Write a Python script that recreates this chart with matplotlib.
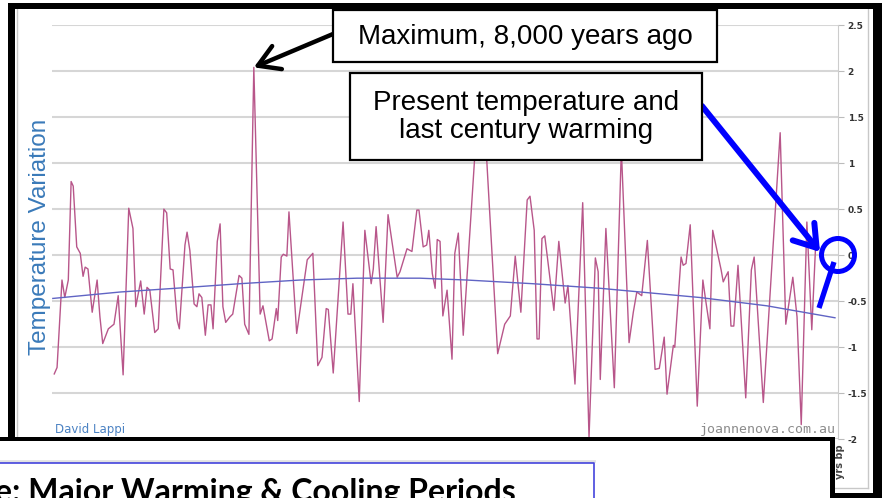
import matplotlib.pyplot as plt
from matplotlib.patches import Rectangle, Ellipse
from matplotlib.lines import Line2D

W, H = 885, 498

# GISP2-style temperature variation, years before present
years_bp = [10840, 10800, 10730, 10690, 10640, 10600, 10570, 10520, 10470, 10430,
            10400, 10360, 10300, 10230, 10190, 10150, 10070, 9990, 9930, 9860,
            9780, 9720, 9680, 9610, 9560, 9520, 9480, 9410, 9360, 9280,
            9240, 9190, 9150, 9090, 9060, 8980, 8950, 8910, 8850, 8810,
            8780, 8740, 8690, 8650, 8610, 8580, 8520, 8480, 8440, 8400,
            8340, 8300, 8210, 8170, 8130, 8070, 8000, 7910, 7870, 7780,
            7740, 7680, 7660, 7610, 7580, 7530, 7500, 7390, 7240, 7160,
            7090, 7030, 6970, 6940, 6870, 6730, 6660, 6620, 6590, 6500,
            6420, 6330, 6300, 6260, 6160, 6090, 5960, 5920, 5820, 5750,
            5680, 5650, 5590, 5540, 5510, 5460, 5420, 5390, 5350, 5310,
            5250, 5180, 5140, 5090, 5020, 4820, 4720, 4530, 4430, 4350,
            4280, 4200, 4110, 4070, 4010, 3970, 3940, 3900, 3860, 3730,
            3660, 3570, 3530, 3430, 3320, 3230, 3140, 3100, 3070, 2990,
            2920, 2870, 2770, 2660, 2600, 2550, 2480, 2400, 2290, 2230,
            2160, 2120, 2030, 2010, 1920, 1890, 1850, 1790, 1690, 1610,
            1570, 1510, 1470, 1350, 1320, 1290, 1250, 1210, 1170, 1110,
            1000, 920, 880, 750, 510, 430, 330, 270, 210, 130,
            60, 0]
temp_var = [-1.29, -1.22, -0.27, -0.46, -0.27, 0.80, 0.75, 0.09, 0.02, -0.23,
            -0.13, -0.15, -0.62, -0.27, -0.67, -0.96, -0.80, -0.75, -0.44, -1.30,
            0.51, 0.29, -0.56, -0.28, -0.64, -0.35, -0.38, -0.84, -0.80, 0.50,
            0.46, -0.15, -0.16, -0.71, -0.80, 0.11, 0.25, 0.05, -0.53, -0.56,
            -0.42, -0.46, -0.87, -0.54, -0.54, -0.80, 0.15, 0.34, -0.56, -0.73,
            -0.67, -0.64, -0.22, -0.25, -0.75, -0.86, 2.04, -0.64, -0.55, -0.93,
            -0.91, -0.58, -0.71, -0.02, 0.01, -0.01, 0.47, -0.85, -0.05, 0.02,
            -1.20, -1.11, -0.58, -0.59, -1.28, 0.36, -0.64, -0.64, -0.31, -1.59,
            0.27, -0.31, -0.15, 0.31, -0.73, 0.44, -0.24, -0.18, 0.07, 0.04,
            0.49, 0.49, 0.09, 0.11, 0.27, -0.20, -0.36, 0.17, 0.15, -0.66,
            -0.38, -1.13, 0.02, 0.24, -0.87, 1.50, 1.50, -1.07, -0.75, -0.66,
            -0.01, -0.62, 0.60, 0.64, 0.27, -0.91, -0.91, 0.18, 0.21, -0.60,
            0.15, -0.52, -0.33, -1.40, 0.57, -1.98, -0.03, -0.18, -1.35, 0.29,
            -0.71, -1.44, 1.15, -0.95, -0.62, -0.40, -0.44, 0.16, -1.24, -1.23,
            -0.89, -1.51, -0.98, -1.00, -0.02, -0.11, -0.09, 0.33, -1.64, -0.27,
            -0.49, -0.80, 0.27, -0.16, -0.29, -0.24, -0.18, -0.77, -0.77, -0.11,
            -1.55, -0.16, -0.02, -1.60, 1.33, -0.75, -0.24, -0.67, -1.84, 0.36,
            -0.81, 0.20]

# polynomial trend line as drawn on the chart
trend_years = [10860, 9900, 9120, 8200, 7340, 6530, 5640, 4970, 4030, 3070,
               2360, 1650, 700, -270]
trend_vals = [-0.47, -0.40, -0.36, -0.31, -0.27, -0.25, -0.25, -0.27, -0.31, -0.36,
              -0.41, -0.46, -0.55, -0.68]

y_ticks = [2.5, 2, 1.5, 1, 0.5, 0, -0.5, -1, -1.5, -2]
y_tick_labels = ['2.5', '2', '1.5', '1', '0.5', '0', '-0.5', '-1', '-1.5', '-2']


def fx(x):
    return x / W


def fy(y):
    return 1 - y / H


def frame(x0, y0, x1, y1, **kw):
    r = Rectangle((fx(x0), fy(y1)), (x1 - x0) / W, (y1 - y0) / H,
                  transform=fig.transFigure, **kw)
    fig.add_artist(r)


fig = plt.figure(figsize=(W / 100, H / 100), dpi=100)
fig.patch.set_facecolor('white')

ax = fig.add_axes([fx(52), fy(439.3), (838 - 52) / W, (439.3 - 25) / H])
ax.plot(years_bp, temp_var, color='#b8568a', lw=1.0, zorder=3)
ax.plot(trend_years, trend_vals, color='#6064c4', lw=1.0, zorder=4)
ax.set_xlim(10872, -313)
ax.set_ylim(-2, 2.5)
ax.set_xticks([])
ax.set_yticks(y_ticks)
ax.set_yticklabels(y_tick_labels, fontsize=6.5, fontweight='bold', color='#333333')
ax.yaxis.tick_right()
ax.tick_params(axis='y', length=4, color='#bbbbbb', pad=3)
ax.grid(axis='y', color='#d6d6d6', lw=1.5)
ax.set_axisbelow(True)
for s in ['top', 'left', 'bottom']:
    ax.spines[s].set_visible(False)
ax.spines['right'].set_color('#cccccc')

ax.text(0.004, 0.024, 'David Lappi', transform=ax.transAxes, fontsize=8.5,
        color='#4b82c3', va='center')
ax.text(0.9975, 0.024, 'joannenova.com.au', transform=ax.transAxes,
        family='DejaVu Sans Mono', fontsize=9.5, color='#8c8c8c',
        ha='right', va='center')

fig.text(fx(40), fy(237), 'Temperature Variation', rotation=90, ha='center',
         va='center', family='Liberation Sans', fontsize=17.5, color='#3a7ab9')

# screenshot frame
k = dict(fc='black', ec='none', zorder=10)
frame(8, 3, 882, 9, **k)
frame(8, 3, 15, 441, **k)
frame(873, 3, 882, 498, **k)
frame(0, 437, 834, 441, **k)
frame(830, 437, 835, 498, **k)
frame(830, 493, 882, 498, **k)
g = dict(color='#c8c8c8', lw=1, transform=fig.transFigure, zorder=9)
fig.add_artist(Line2D([fx(16.5), fx(16.5)], [fy(9), fy(437)], **g))
fig.add_artist(Line2D([fx(868), fx(868)], [fy(9), fy(488)], **g))
fig.add_artist(Line2D([fx(835), fx(868)], [fy(488), fy(488)], **g))
fig.text(fx(840), fy(462), 'yrs bp', rotation=90, ha='center', va='center',
         fontsize=7, fontweight='bold', color='#444444', zorder=9)

# lower slide box
fig.add_artist(Line2D([fx(0), fx(594)], [fy(461), fy(461)], color='#e2e2e2', lw=2,
                      transform=fig.transFigure, zorder=9))
fig.add_artist(Line2D([fx(0), fx(594), fx(594)], [fy(463), fy(463), fy(498)],
                      color='#4444dd', lw=1.2, transform=fig.transFigure, zorder=10))
fig.text(fx(-5), fy(502), 'e: Major Warming & Cooling Periods', family='Lato',
         fontweight='bold', fontsize=23, color='black', va='baseline', zorder=11)

# callout boxes
b = dict(fc='white', ec='black', lw=1.6, zorder=11)
frame(333, 10, 717, 62, **b)
frame(350, 73, 702, 160, **b)
fig.text(fx(525), fy(37), 'Maximum, 8,000 years ago', family='Liberation Sans',
         fontsize=20, ha='center', va='center', zorder=12)
fig.text(fx(526), fy(117), 'Present temperature and\nlast century warming',
         family='Liberation Sans', fontsize=20, ha='center', va='center',
         linespacing=1.1, zorder=12)

ax.annotate('', xy=(8000, 2.04), xycoords='data',
            xytext=(fx(333), fy(34)), textcoords='figure fraction',
            arrowprops=dict(arrowstyle='->,head_length=0.75,head_width=0.45',
                            mutation_scale=20, lw=3.2, color='black',
                            shrinkA=0, shrinkB=0),
            annotation_clip=False, zorder=12)
ax.annotate('', xy=(fx(820), fy(252)), xycoords='figure fraction',
            xytext=(fx(702), fy(106)), textcoords='figure fraction',
            arrowprops=dict(arrowstyle='->,head_length=0.75,head_width=0.5',
                            mutation_scale=20, lw=4.3, color='#0000ff',
                            shrinkA=0, shrinkB=0),
            annotation_clip=False, zorder=12)
fig.add_artist(Ellipse((fx(838), fy(255)), 33 / W, 33 / H, fill=False,
                       ec='#0000ff', lw=3.6, transform=fig.transFigure, zorder=12))
fig.add_artist(Line2D([fx(834), fx(819)], [fy(262), fy(308)], color='#0000ff',
                      lw=3.8, solid_capstyle='butt', transform=fig.transFigure,
                      zorder=12))

fig.savefig('out.png', dpi=100)
